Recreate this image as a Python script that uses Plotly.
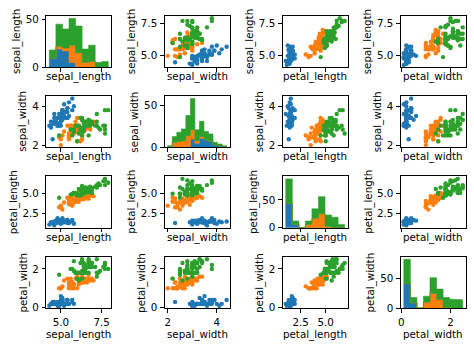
import numpy as np
import plotly.graph_objects as go

variables = ["sepal_length", "sepal_width", "petal_length", "petal_width"]
species_names = ["setosa", "versicolor", "virginica"]
species_colors = ["#1f77b4", "#ff7f0e", "#2ca02c"]
species_counts = [50, 50, 50]

sepal_length = [
    5.1, 4.9, 4.7, 4.6, 5.0, 5.4, 4.6, 5.0, 4.4, 4.9, 5.4, 4.8, 4.8, 4.3, 5.8, 5.7, 5.4, 5.1, 5.7, 5.1,
    5.4, 5.1, 4.6, 5.1, 4.8, 5.0, 5.0, 5.2, 5.2, 4.7, 4.8, 5.4, 5.2, 5.5, 4.9, 5.0, 5.5, 4.9, 4.4, 5.1,
    5.0, 4.5, 4.4, 5.0, 5.1, 4.8, 5.1, 4.6, 5.3, 5.0,
    7.0, 6.4, 6.9, 5.5, 6.5, 5.7, 6.3, 4.9, 6.6, 5.2, 5.0, 5.9, 6.0, 6.1, 5.6, 6.7, 5.6, 5.8, 6.2, 5.6,
    5.9, 6.1, 6.3, 6.1, 6.4, 6.6, 6.8, 6.7, 6.0, 5.7, 5.5, 5.5, 5.8, 6.0, 5.4, 6.0, 6.7, 6.3, 5.6, 5.5,
    5.5, 6.1, 5.8, 5.0, 5.6, 5.7, 5.7, 6.2, 5.1, 5.7,
    6.3, 5.8, 7.1, 6.3, 6.5, 7.6, 4.9, 7.3, 6.7, 7.2, 6.5, 6.4, 6.8, 5.7, 5.8, 6.4, 6.5, 7.7, 7.7, 6.0,
    6.9, 5.6, 7.7, 6.3, 6.7, 7.2, 6.2, 6.1, 6.4, 7.2, 7.4, 7.9, 6.4, 6.3, 6.1, 7.7, 6.3, 6.4, 6.0, 6.9,
    6.7, 6.9, 5.8, 6.8, 6.7, 6.7, 6.3, 6.5, 6.2, 5.9,
]
sepal_width = [
    3.5, 3.0, 3.2, 3.1, 3.6, 3.9, 3.4, 3.4, 2.9, 3.1, 3.7, 3.4, 3.0, 3.0, 4.0, 4.4, 3.9, 3.5, 3.8, 3.8,
    3.4, 3.7, 3.6, 3.3, 3.4, 3.0, 3.4, 3.5, 3.4, 3.2, 3.1, 3.4, 4.1, 4.2, 3.1, 3.2, 3.5, 3.6, 3.0, 3.4,
    3.5, 2.3, 3.2, 3.5, 3.8, 3.0, 3.8, 3.2, 3.7, 3.3,
    3.2, 3.2, 3.1, 2.3, 2.8, 2.8, 3.3, 2.4, 2.9, 2.7, 2.0, 3.0, 2.2, 2.9, 2.9, 3.1, 3.0, 2.7, 2.2, 2.5,
    3.2, 2.8, 2.5, 2.8, 2.9, 3.0, 2.8, 3.0, 2.9, 2.6, 2.4, 2.4, 2.7, 2.7, 3.0, 3.4, 3.1, 2.3, 3.0, 2.5,
    2.6, 3.0, 2.6, 2.3, 2.7, 3.0, 2.9, 2.9, 2.5, 2.8,
    3.3, 2.7, 3.0, 2.9, 3.0, 3.0, 2.5, 2.9, 2.5, 3.6, 3.2, 2.7, 3.0, 2.5, 2.8, 3.2, 3.0, 3.8, 2.6, 2.2,
    3.2, 2.8, 2.8, 2.7, 3.3, 3.2, 2.8, 3.0, 2.8, 3.0, 2.8, 3.8, 2.8, 2.8, 2.6, 3.0, 3.4, 3.1, 3.0, 3.1,
    3.1, 3.1, 2.7, 3.2, 3.3, 3.0, 2.5, 3.0, 3.4, 3.0,
]
petal_length = [
    1.4, 1.4, 1.3, 1.5, 1.4, 1.7, 1.4, 1.5, 1.4, 1.5, 1.5, 1.6, 1.4, 1.1, 1.2, 1.5, 1.3, 1.4, 1.7, 1.5,
    1.7, 1.5, 1.0, 1.7, 1.9, 1.6, 1.6, 1.5, 1.4, 1.6, 1.6, 1.5, 1.5, 1.4, 1.5, 1.2, 1.3, 1.4, 1.3, 1.5,
    1.3, 1.3, 1.3, 1.6, 1.9, 1.4, 1.6, 1.4, 1.5, 1.4,
    4.7, 4.5, 4.9, 4.0, 4.6, 4.5, 4.7, 3.3, 4.6, 3.9, 3.5, 4.2, 4.0, 4.7, 3.6, 4.4, 4.5, 4.1, 4.5, 3.9,
    4.8, 4.0, 4.9, 4.7, 4.3, 4.4, 4.8, 5.0, 4.5, 3.5, 3.8, 3.7, 3.9, 5.1, 4.5, 4.5, 4.7, 4.4, 4.1, 4.0,
    4.4, 4.6, 4.0, 3.3, 4.2, 4.2, 4.2, 4.3, 3.0, 4.1,
    6.0, 5.1, 5.9, 5.6, 5.8, 6.6, 4.5, 6.3, 5.8, 6.1, 5.1, 5.3, 5.5, 5.0, 5.1, 5.3, 5.5, 6.7, 6.9, 5.0,
    5.7, 4.9, 6.7, 4.9, 5.7, 6.0, 4.8, 4.9, 5.6, 5.8, 6.1, 6.4, 5.6, 5.1, 5.6, 6.1, 5.6, 5.5, 4.8, 5.4,
    5.6, 5.1, 5.1, 5.9, 5.7, 5.2, 5.0, 5.2, 5.4, 5.1,
]
petal_width = [
    0.2, 0.2, 0.2, 0.2, 0.2, 0.4, 0.3, 0.2, 0.2, 0.1, 0.2, 0.2, 0.1, 0.1, 0.2, 0.4, 0.4, 0.3, 0.3, 0.3,
    0.2, 0.4, 0.2, 0.5, 0.2, 0.2, 0.4, 0.2, 0.2, 0.2, 0.2, 0.4, 0.1, 0.2, 0.2, 0.2, 0.2, 0.1, 0.2, 0.2,
    0.3, 0.3, 0.2, 0.6, 0.4, 0.3, 0.2, 0.2, 0.2, 0.2,
    1.4, 1.5, 1.5, 1.3, 1.5, 1.3, 1.6, 1.0, 1.3, 1.4, 1.0, 1.5, 1.0, 1.4, 1.3, 1.4, 1.5, 1.0, 1.5, 1.1,
    1.8, 1.3, 1.5, 1.2, 1.3, 1.4, 1.4, 1.7, 1.5, 1.0, 1.1, 1.0, 1.2, 1.6, 1.5, 1.6, 1.5, 1.3, 1.3, 1.3,
    1.2, 1.4, 1.2, 1.0, 1.3, 1.2, 1.3, 1.3, 1.1, 1.3,
    2.5, 1.9, 2.1, 1.8, 2.2, 2.1, 1.7, 1.8, 1.8, 2.5, 2.0, 1.9, 2.1, 2.0, 2.4, 2.3, 1.8, 2.2, 2.3, 1.5,
    2.3, 2.0, 2.0, 1.8, 2.1, 1.8, 1.8, 1.8, 2.1, 1.6, 1.9, 2.0, 2.2, 1.5, 1.4, 2.3, 2.4, 1.8, 1.8, 2.1,
    2.4, 2.3, 1.9, 2.3, 2.5, 2.3, 1.9, 2.0, 2.3, 1.8,
]

# tick labels per variable
tick_vals = {
    "sepal_length": [5.0, 7.5],
    "sepal_width": [2, 4],
    "petal_length": [2.5, 5.0],
    "petal_width": [0, 2],
}
tick_text = {
    "sepal_length": ["5.0", "7.5"],
    "sepal_width": ["2", "4"],
    "petal_length": ["2.5", "5.0"],
    "petal_width": ["0", "2"],
}
count_tick_vals = [0, 50]
count_tick_text = ["0", "50"]

# diagonal histogram layers as they appear (blue, orange, green on top)
hist_layers = ["setosa", "versicolor", "all"]

# ---------------------------------------------------------------------------
columns = {"sepal_length": np.array(sepal_length), "sepal_width": np.array(sepal_width),
           "petal_length": np.array(petal_length), "petal_width": np.array(petal_width)}
species = np.repeat(species_names, species_counts)

W, H = 474, 353
lefts = [43.7, 162.8, 281.6, 400.4]
axw = 65.2
tops = [13.3, 95.6, 178.0, 260.5]
axh = 52.6

FONT = "DejaVu Sans"
FS = 10.3
TL = 3.6
LW = 0.8

fig = go.Figure()
layout = {}
annotations = []


def rng(v):
    lo, hi = float(np.min(v)), float(np.max(v))
    pad = (hi - lo) * 0.05
    return [lo - pad, hi + pad]


def label_width(texts):
    w = 0
    for t in texts:
        cw = sum(3.3 if ch == "." else 6.55 for ch in t)
        w = max(w, cw)
    return w


def step_polygon(edges, bottom, top):
    xs, ys = [], []
    for b in range(len(top)):
        xs += [edges[b], edges[b + 1]]
        ys += [top[b], top[b]]
    for b in range(len(bottom) - 1, -1, -1):
        xs += [edges[b + 1], edges[b]]
        ys += [bottom[b], bottom[b]]
    xs.append(xs[0])
    ys.append(ys[0])
    return xs, ys


for i, yv in enumerate(variables):
    for j, xv in enumerate(variables):
        n = i * 4 + j + 1
        xa = "x" if n == 1 else f"x{n}"
        ya = "y" if n == 1 else f"y{n}"
        xkey = "xaxis" if n == 1 else f"xaxis{n}"
        ykey = "yaxis" if n == 1 else f"yaxis{n}"
        xdata = columns[xv]
        ydata = columns[yv]
        if i == j:
            edges = np.histogram_bin_edges(xdata, bins="auto")
            cum = np.zeros(len(edges) - 1)
            for layer, color in zip(hist_layers, species_colors):
                sel = xdata if layer == "all" else xdata[species == layer]
                counts, _ = np.histogram(sel, bins=edges)
                new = cum + counts
                px, py = step_polygon(edges, cum, new)
                fig.add_trace(go.Scatter(x=px, y=py, mode="lines", line=dict(width=0.6, color=color),
                                         fill="toself", fillcolor=color,
                                         xaxis=xa, yaxis=ya, showlegend=False, hoverinfo="skip"))
                cum = new
            yrange = [0, cum.max() * 1.05]
            yt_vals, yt_text = count_tick_vals, count_tick_text
        else:
            for sp, color in zip(species_names, species_colors):
                m = species == sp
                fig.add_trace(go.Scatter(x=xdata[m], y=ydata[m], mode="markers",
                                         marker=dict(size=4.4, color=color, line=dict(width=0)),
                                         xaxis=xa, yaxis=ya, showlegend=False, cliponaxis=True))
            yrange = rng(ydata)
            yt_vals, yt_text = tick_vals[yv], tick_text[yv]

        common = dict(showgrid=False, zeroline=False, showline=True, mirror=True, linecolor="black",
                      linewidth=LW, ticks="outside", ticklen=TL, tickwidth=LW, tickcolor="black",
                      tickfont=dict(family=FONT, size=FS, color="black"), fixedrange=True)
        l = lefts[j]
        t = tops[i]
        layout[xkey] = dict(domain=[l / W, (l + axw) / W], anchor=ya, range=rng(xdata),
                            tickmode="array", tickvals=tick_vals[xv], ticktext=tick_text[xv],
                            showticklabels=(i == 3), ticklabelstandoff=1, **common)
        layout[ykey] = dict(domain=[1 - (t + axh) / H, 1 - t / H], anchor=xa, range=yrange,
                            tickmode="array", tickvals=yt_vals, ticktext=yt_text,
                            ticklabelstandoff=1, **common)

        # x axis label
        annotations.append(dict(text=xv, xref=f"{xa} domain", yref=f"{ya} domain", x=0.5, y=0,
                                xanchor="center", yanchor="middle", showarrow=False,
                                yshift=-(26.7 if i == 3 else 9.5),
                                font=dict(family=FONT, size=FS, color="black")))
        # y axis label
        tw = label_width(yt_text)
        annotations.append(dict(text=yv, xref=f"{xa} domain", yref=f"{ya} domain", x=0, y=0.5,
                                xanchor="center", yanchor="middle", textangle=-90, showarrow=False,
                                xshift=-(TL + 3.6 + tw + 4.1 + 5.5),
                                font=dict(family=FONT, size=FS, color="black")))

fig.update_layout(width=W, height=H, margin=dict(l=0, r=0, t=0, b=0, pad=0),
                  paper_bgcolor="white", plot_bgcolor="white",
                  annotations=annotations, font=dict(family=FONT, size=FS, color="black"), **layout)

fig.write_html("out.html")
